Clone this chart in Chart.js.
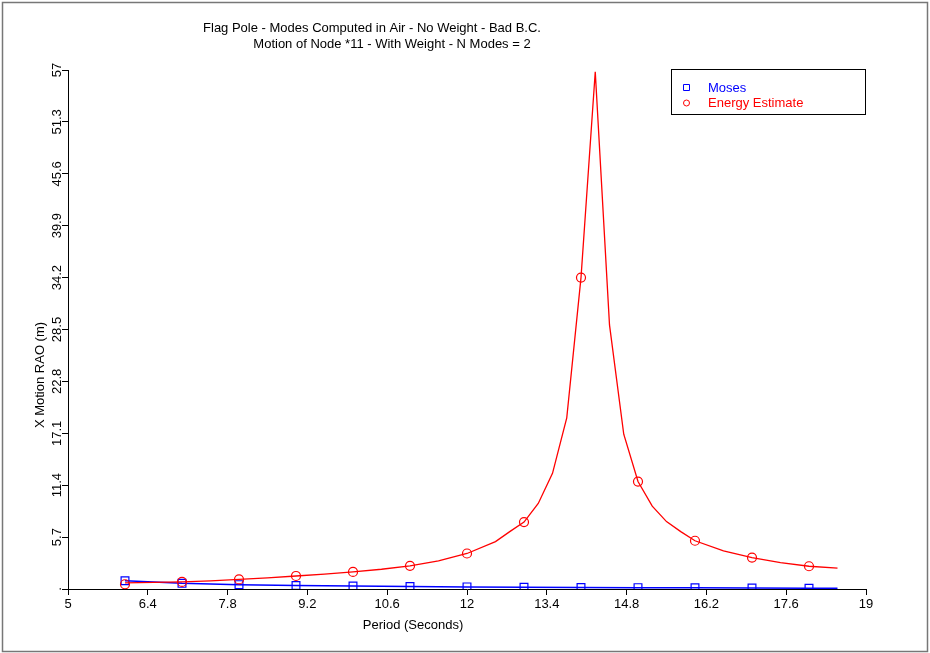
<!DOCTYPE html>
<html>
<head>
<meta charset="utf-8">
<script src="https://cdn.jsdelivr.net/npm/chart.js@4.4.1/dist/chart.umd.min.js"></script>
<style>
  html, body { margin: 0; padding: 0; background: #fff; }
  #wrap { width: 930px; height: 653px; position: relative; }
</style>
</head>
<body>
<div id="wrap"><canvas id="raoChart" width="930" height="653"></canvas></div>
<script>
// -------------------- DATA --------------------
const titleLine1 = "Flag Pole - Modes Computed in Air - No Weight - Bad B.C.";
const titleLine2 = "Motion of Node *11 - With Weight - N Modes = 2";
const xTitle = "Period (Seconds)";
const yTitle = "X Motion RAO (m)";

const xTicks = [5, 6.4, 7.8, 9.2, 10.6, 12, 13.4, 14.8, 16.2, 17.6, 19];
const xTickLabels = ["5", "6.4", "7.8", "9.2", "10.6", "12", "13.4", "14.8", "16.2", "17.6", "19"];
const yTicks = [0, 5.7, 11.4, 17.1, 22.8, 28.5, 34.2, 39.9, 45.6, 51.3, 57];
const yTickLabels = [".", "5.7", "11.4", "17.1", "22.8", "28.5", "34.2", "39.9", "45.6", "51.3", "57"];

// energy estimate curve (fine sampling)
const energyPeriods = [6, 6.5, 7, 7.5, 8, 8.5, 9, 9.5, 10, 10.5, 11, 11.5, 12, 12.5, 12.75, 13,
  13.25, 13.5, 13.75, 14, 14.25, 14.5, 14.75, 15, 15.25, 15.5, 15.75, 16, 16.5, 17, 17.5, 18, 18.5];
const energyCurve = [0.68, 0.72, 0.78, 0.9, 1.05, 1.22, 1.43, 1.63, 1.88, 2.17, 2.55, 3.1, 3.9, 5.2, 6.3, 7.35,
  9.4, 12.7, 18.8, 34.2, 56.8, 29.0, 17.0, 11.8, 9.1, 7.4, 6.3, 5.3, 4.2, 3.45, 2.9, 2.5, 2.3];

// marker periods
const markPeriods = [6, 7, 8, 9, 10, 11, 12, 13, 14, 15, 16, 17, 18];
const energyMarks = [0.52, 0.78, 1.05, 1.43, 1.88, 2.55, 3.9, 7.35, 34.2, 11.8, 5.3, 3.45, 2.5];

// Moses curve
const mosesPeriods = [6, 7, 8, 9, 10, 11, 12, 13, 14, 15, 16, 17, 18, 18.5];
const mosesCurve = [0.9, 0.62, 0.48, 0.38, 0.32, 0.27, 0.23, 0.2, 0.17, 0.15, 0.13, 0.11, 0.09, 0.08];
const mosesMarks = [0.9, 0.62, 0.48, 0.38, 0.32, 0.27, 0.23, 0.2, 0.17, 0.15, 0.13, 0.11, 0.09];

const seriesNames = ["Moses", "Energy Estimate"];
const RED = "#ff0000";
const BLUE = "#0000ff";

const pts = (xs, ys) => xs.map((x, i) => ({ x: x, y: ys[i] }));

const NARROW = "'Liberation Sans Narrow', 'Liberation Sans', Arial, sans-serif";
const REGULAR = "'Liberation Sans', Arial, sans-serif";

// -------------------- DECOR PLUGIN --------------------
const decor = {
  id: "decor",
  afterDraw(chart) {
    const c = chart.ctx;
    const ys = chart.scales.y;
    c.save();

    // outer frame
    c.strokeStyle = "#777";
    c.lineWidth = 1.5;
    c.strokeRect(2.5, 2.5, 925, 649);

    c.fillStyle = "#000";
    c.textBaseline = "middle";
    c.textAlign = "center";
    c.font = "13px " + NARROW;
    c.fillText(titleLine1, 372, 28);
    c.fillText(titleLine2, 392, 44);

    // x title
    c.fillText(xTitle, 413, 625);

    // y title, rotated
    c.save();
    c.translate(40, 375);
    c.rotate(-Math.PI / 2);
    c.fillText(yTitle, 0, 0);
    c.restore();

    // y tick labels rotated
    yTicks.forEach((v, i) => {
      const py = ys.getPixelForValue(v);
      c.save();
      c.translate(57, py);
      c.rotate(-Math.PI / 2);
      c.fillText(yTickLabels[i], 0, 0);
      c.restore();
    });

    // legend box
    c.strokeStyle = "#000";
    c.lineWidth = 1;
    c.strokeRect(671.5, 69.5, 194, 45);
    c.textAlign = "left";
    c.font = "13px " + REGULAR;
    const cols = [BLUE, RED];
    seriesNames.forEach((name, i) => {
      const ly = 88 + i * 15;
      c.strokeStyle = cols[i];
      c.fillStyle = cols[i];
      c.beginPath();
      if (i === 0) {
        c.rect(683.5, ly - 3.5, 6, 6);
      } else {
        c.arc(686.5, ly, 3, 0, Math.PI * 2);
      }
      c.stroke();
      c.fillText(name, 708, ly);
    });
    c.restore();
  }
};

// -------------------- CHART --------------------
const ctx = document.getElementById("raoChart").getContext("2d");

const chart = new Chart(ctx, {
  type: "scatter",
  data: {
    datasets: [
      {
        label: seriesNames[1] + " curve",
        data: pts(energyPeriods, energyCurve),
        showLine: true,
        borderColor: RED,
        borderWidth: 1.3,
        pointRadius: 0,
        tension: 0
      },
      {
        label: seriesNames[1],
        data: pts(markPeriods, energyMarks),
        showLine: false,
        pointStyle: "circle",
        pointRadius: 4.5,
        pointBorderWidth: 1.2,
        pointBorderColor: RED,
        pointBackgroundColor: "rgba(0,0,0,0)"
      },
      {
        label: seriesNames[0] + " curve",
        data: pts(mosesPeriods, mosesCurve),
        showLine: true,
        borderColor: BLUE,
        borderWidth: 1.5,
        pointRadius: 0,
        tension: 0
      },
      {
        label: seriesNames[0],
        data: pts(markPeriods, mosesMarks),
        showLine: false,
        pointStyle: "rect",
        pointRadius: 5.5,
        pointBorderWidth: 1.2,
        pointBorderColor: BLUE,
        pointBackgroundColor: "rgba(0,0,0,0)"
      }
    ]
  },
  options: {
    responsive: false,
    animation: false,
    devicePixelRatio: 1,
    layout: { padding: { left: 0, top: 70, right: 64, bottom: 0 } },
    plugins: {
      legend: { display: false },
      title: { display: false },
      tooltip: { enabled: false }
    },
    scales: {
      x: {
        type: "linear",
        min: 5,
        max: 19,
        afterBuildTicks: (s) => { s.ticks = xTicks.map(v => ({ value: v })); },
        afterFit: (s) => { s.height = 64; },
        border: { display: true, color: "#000", width: 1 },
        grid: { drawOnChartArea: false, drawTicks: true, tickLength: 6, color: "#000" },
        ticks: {
          padding: 2,
          color: "#000",
          font: { family: NARROW, size: 13 },
          maxRotation: 0,
          callback: (v, i) => xTickLabels[i]
        }
      },
      y: {
        type: "linear",
        min: 0,
        max: 57,
        afterBuildTicks: (s) => { s.ticks = yTicks.map(v => ({ value: v })); },
        afterFit: (s) => { s.width = 68; },
        border: { display: true, color: "#000", width: 1 },
        grid: { drawOnChartArea: false, drawTicks: true, tickLength: 6, color: "#000" },
        ticks: { display: false }
      }
    }
  },
  plugins: [decor]
});
</script>
</body>
</html>
